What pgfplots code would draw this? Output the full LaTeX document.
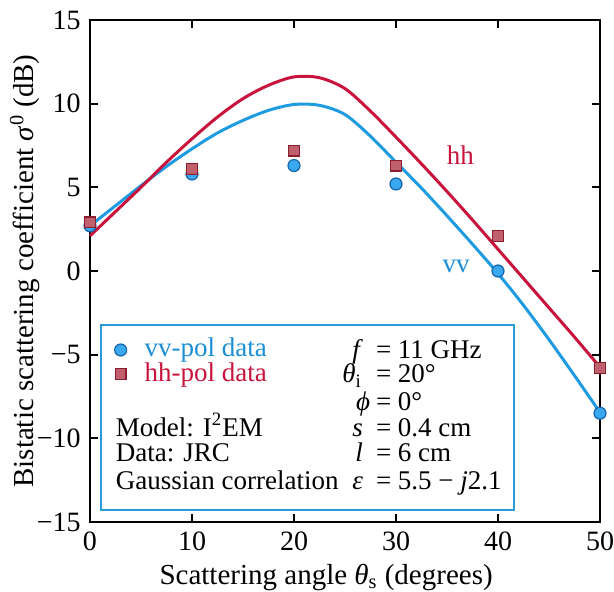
\documentclass[border=0pt]{standalone}
\usepackage{pgfplots}
\pgfplotsset{compat=1.18}
\usepackage{fontspec}
\setmainfont{Liberation Serif}
\definecolor{vvline}{HTML}{1E9BE1}
\definecolor{hhline}{HTML}{C8143C}
\definecolor{vvfill}{HTML}{3AA8F0}
\definecolor{vvedge}{HTML}{1565A8}
\definecolor{hhfill}{HTML}{C0606C}
\definecolor{hhedge}{HTML}{8C1C30}
\definecolor{boxblue}{HTML}{2A9AD8}
\definecolor{vvtext}{HTML}{1A8FD6}
\newcommand{\lgtxt}[1]{\raisebox{0pt}[8.8pt][2.4pt]{#1}}
\begin{document}
\fontsize{13.5}{15}\selectfont
\begin{tikzpicture}[boxtxt/.style={inner sep=0pt, text height=8.8pt, text depth=2.4pt}]
\begin{axis}[
  scale only axis, width=255pt, height=251pt,
  xmin=0, xmax=50, ymin=-15, ymax=15,
  xtick={0,10,...,50}, ytick={-15,-10,...,15},
  yticklabels={−15,−10,−5,0,5,10,15},
  /pgf/number format/assume math mode=true,
  tick align=inside, major tick length=4pt,
  axis line style={line width=1pt},
  every tick/.style={black, line width=0.9pt},
  tick label style={font=\fontsize{14}{15}\selectfont},
  clip=false,
  xlabel={Scattering angle \textit{θ}\textsubscript{s} (degrees)},
  ylabel={Bistatic scattering coefficient \textit{σ}\textsuperscript{0} (dB)},
  every axis x label/.style={at={(axis description cs:0.463,0)}, anchor=center, yshift=-27.5pt, font=\fontsize{14.5}{15}\selectfont},
  every axis y label/.style={at={(axis description cs:-0.1275,0.5)}, rotate=90, anchor=center, font=\fontsize{14.5}{15}\selectfont},
  legend style={at={(axis cs:2.38,-3.81)}, anchor=north west, draw=none, fill=none, inner sep=0pt, row sep=-2.7pt, font=\fontsize{13.5}{14}\selectfont, cells={inner ysep=0pt}},
  legend cell align=left,
]
\addplot[vvline, line width=1.5pt, smooth, forget plot] coordinates {
 (0,2.7) (2.5,3.9) (5,5.1) (7.5,6.25) (10,7.3) (12.5,8.25) (15,9.0) (17.5,9.6)
 (20,9.95) (22.5,9.9) (25,9.35) (27.5,8.05) (30,6.5) (32.5,4.95)
 (35,3.3) (37.5,1.6) (40,-0.15) (42.5,-2.05) (45,-4.1) (47.5,-6.25) (50,-8.45)};
\addplot[hhline, line width=1.5pt, smooth, forget plot] coordinates {
 (0,2.1) (2.5,3.55) (5,5.0) (7.5,6.5) (10,7.9) (12.5,9.2) (15,10.3) (17.5,11.1)
 (20,11.6) (22.5,11.55) (25,10.9) (27.5,9.55) (30,8.0) (32.5,6.4)
 (35,4.75) (37.5,3.05) (40,1.3) (42.5,-0.45) (45,-2.2) (47.5,-3.95) (50,-5.75)};
\addplot[only marks, mark=*, mark size=3pt, mark options={fill=vvfill, draw=vvedge, line width=0.6pt}] coordinates {
 (0,2.7) (10,5.8) (20,6.3) (30,5.2) (40,0.0) (50,-8.5)};
\addlegendentry{\hspace*{7pt}\lgtxt{\textcolor{vvtext}{vv-pol data}}}
\addplot[only marks, mark=square*, mark size=2.7pt, mark options={fill=hhfill, draw=hhedge, line width=0.6pt}] coordinates {
 (0,2.9) (10,6.1) (20,7.2) (30,6.3) (40,2.1) (50,-5.8)};
\addlegendentry{\hspace*{7pt}\lgtxt{\textcolor{hhline}{hh-pol data}}}
\node[text=hhline, anchor=center] at (axis cs:36.3,6.9) {hh};
\node[text=vvtext, anchor=center] at (axis cs:35.9,0.3) {vv};
\draw[boxblue, line width=1pt] (axis cs:1.1,-14.3) rectangle (axis cs:41.6,-3.2);
\node[boxtxt, anchor=west] at (axis cs:2.5,-9.5) {Model: I\textsuperscript{2}EM};
\node[boxtxt, anchor=west] at (axis cs:2.5,-11.0) {Data: JRC};
\node[boxtxt, anchor=west] at (axis cs:2.5,-12.67) {Gaussian correlation};
\node[boxtxt, anchor=east] at (axis cs:26.8,-4.85) {\textit{f}};
\node[boxtxt, anchor=west] at (axis cs:28.0,-4.85) {= 11 GHz};
\node[boxtxt, anchor=east] at (axis cs:26.7,-6.3) {\textit{θ}\textsubscript{i}};
\node[boxtxt, anchor=west] at (axis cs:28.0,-6.3) {= 20°};
\node[boxtxt, anchor=east] at (axis cs:27.5,-7.98) {\textit{ϕ}};
\node[boxtxt, anchor=west] at (axis cs:28.0,-7.98) {= 0°};
\node[boxtxt, anchor=east] at (axis cs:26.8,-9.5) {\textit{s}};
\node[boxtxt, anchor=west] at (axis cs:28.0,-9.5) {= 0.4 cm};
\node[boxtxt, anchor=east] at (axis cs:26.8,-11.0) {\textit{l}};
\node[boxtxt, anchor=west] at (axis cs:28.0,-11.0) {= 6 cm};
\node[boxtxt, anchor=east] at (axis cs:26.8,-12.67) {\textit{ε}};
\node[boxtxt, anchor=west] at (axis cs:28.0,-12.67) {= 5.5 − \textit{j}2.1};
\end{axis}
\pgfresetboundingbox
\path[use as bounding box] ([shift={(-45pt,-35pt)}]current axis.south west) rectangle ([shift={(7pt,10pt)}]current axis.north east);
\end{tikzpicture}
\end{document}
